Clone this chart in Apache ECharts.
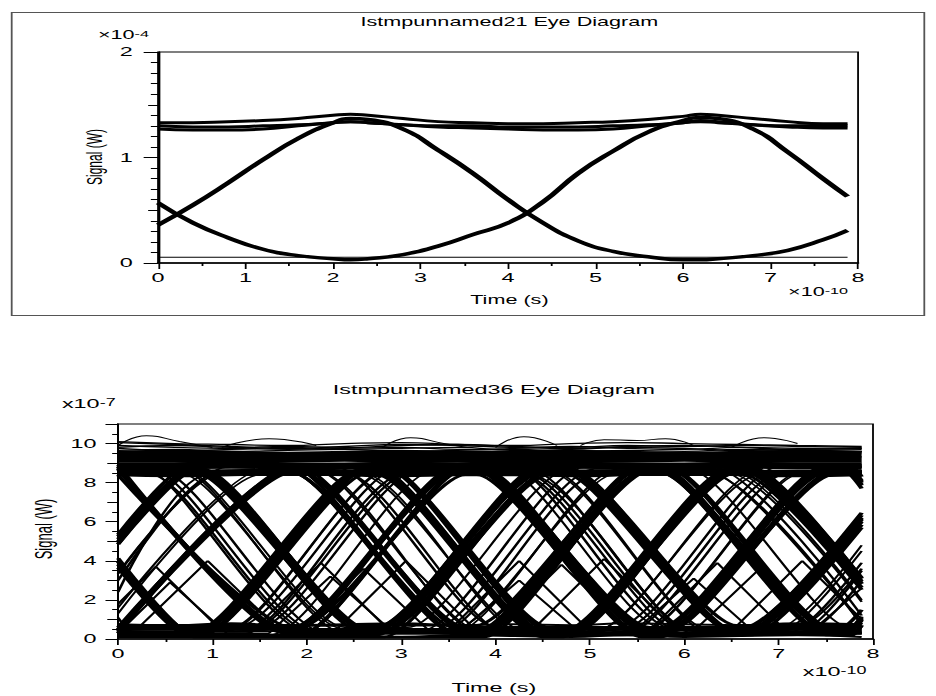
<!DOCTYPE html>
<html>
<head>
<meta charset="utf-8">
<title>Eye Diagrams</title>
<script src="https://cdn.jsdelivr.net/npm/echarts@6/dist/echarts.min.js"></script>
<style>
  html, body { margin: 0; padding: 0; background: #fff; }
  /* the original screenshot is stretched sideways, so the chart is drawn narrow and widened */
  #stage { position: absolute; left: 0; top: 0; width: 520px; height: 696px;
           transform-origin: 0 0; transform: scaleX(1.8); }
  #frame { position: absolute; left: 5.6px; top: 12px; width: 508.8px; height: 304px;
           box-sizing: border-box; border: 1px solid #555; }
  #chart { position: absolute; left: 0; top: 0; width: 520px; height: 696px; }
</style>
</head>
<body>
<div id="stage">
  <div id="frame"></div>
  <div id="chart"></div>
</div>
<script>
// ---- top eye diagram (x10^-10 s, x10^-4 W) ----
var topTimes = [0, 0.4, 0.8, 1.2, 1.6, 2.0, 2.2, 2.4, 2.8, 3.2, 3.6, 4.0, 4.4, 4.8, 5.2, 5.6, 6.0, 6.2, 6.4, 6.8, 7.2, 7.6, 7.88];
var topRise = [0.36, 0.55, 0.76, 0.98, 1.18, 1.33, 1.37, 1.36, 1.27, 1.07, 0.85, 0.6, 0.38, 0.21, 0.11, 0.06, 0.03, 0.03, 0.04, 0.07, 0.12, 0.22, 0.31];
var topFall = [0.57, 0.38, 0.24, 0.13, 0.07, 0.04, 0.03, 0.04, 0.08, 0.16, 0.27, 0.38, 0.58, 0.85, 1.06, 1.24, 1.35, 1.38, 1.37, 1.27, 1.05, 0.8, 0.63];
var topHighUpper = [1.33, 1.33, 1.34, 1.35, 1.37, 1.40, 1.41, 1.40, 1.37, 1.34, 1.33, 1.32, 1.32, 1.33, 1.34, 1.36, 1.39, 1.41, 1.40, 1.37, 1.34, 1.32, 1.32];
var topHighMid = [1.3, 1.29, 1.29, 1.3, 1.31, 1.33, 1.34, 1.33, 1.31, 1.3, 1.3, 1.29, 1.29, 1.29, 1.3, 1.31, 1.33, 1.34, 1.33, 1.31, 1.3, 1.3, 1.3];
var topHighLower = [1.27, 1.26, 1.26, 1.27, 1.3, 1.33, 1.34, 1.33, 1.31, 1.29, 1.28, 1.27, 1.26, 1.26, 1.27, 1.3, 1.33, 1.35, 1.34, 1.31, 1.29, 1.28, 1.28];
var topFloorTimes = [0, 7.88];
var topFloor = [0.055, 0.055];

// ---- bottom eye diagram (x10^-10 s, x10^-7 W) ----
// group A traces share these break times
var eyeTimesA = [0, 1.75, 1.85, 3.6, 3.8, 5.55, 5.75, 7.5, 7.7, 7.88];
var eyeTracesA = [
  [8.7, 0.5, 0.5, 8.7, 8.7, 0.5, 0.5, 8.7, 8.7, 7.86],
  [0.3, 8.5, 8.5, 0.3, 0.3, 8.5, 8.5, 0.3, 0.3, 1.15],
  [8.8, 8.8, 8.8, 0.2, 0.2, 0.2, 0.2, 8.8, 8.8, 8.8],
  [0.6, 0.6, 0.6, 8.6, 8.6, 8.6, 8.6, 0.6, 0.6, 0.6],
  [8.9, 0.4, 0.4, 0.4, 0.4, 8.9, 8.9, 8.9, 8.9, 8.0],
  [0.3, 8.4, 8.4, 8.4, 8.4, 0.3, 0.3, 0.3, 0.3, 1.1],
  [8.6, 8.6, 8.6, 8.6, 8.6, 0.1, 0.1, 8.6, 8.6, 7.7],
  [0.7, 0.7, 0.7, 0.7, 0.7, 8.7, 8.7, 0.7, 0.7, 1.5],
  [0.5, 8.5, 8.5, 0.5, 0.5, 0.5, 0.5, 8.5, 8.5, 8.5],
  [8.8, 0.3, 0.3, 8.8, 8.8, 8.8, 8.8, 0.3, 0.3, 0.3],
  [8.5, 8.5, 8.5, 0.2, 0.2, 8.5, 8.5, 0.2, 0.2, 1.05],
  [0.6, 0.6, 0.6, 8.9, 8.9, 0.6, 0.6, 8.9, 8.9, 8.05]
];
// the same group sampled a little later
var eyeTimesA2 = [0, 1.83, 1.93, 3.68, 3.88, 5.63, 5.83, 7.58, 7.78, 7.88];
var eyeTracesA2 = [
  [8.4, 0.6, 0.6, 8.4, 8.4, 0.6, 0.6, 8.4, 8.4, 7.9],
  [0.5, 8.8, 8.8, 0.5, 0.5, 8.8, 8.8, 0.5, 0.5, 1.0],
  [8.6, 8.6, 8.6, 0.4, 0.4, 8.6, 8.6, 8.6, 8.6, 8.6],
  [0.2, 0.2, 0.2, 8.7, 8.7, 0.2, 0.2, 0.2, 0.2, 0.7],
  [8.7, 0.3, 0.3, 0.3, 0.3, 8.7, 8.7, 0.3, 0.3, 0.3],
  [0.4, 8.5, 8.5, 8.5, 8.5, 0.4, 0.4, 8.5, 8.5, 8.5],
  [0.1, 0.1, 0.1, 0.1, 0.1, 8.8, 8.8, 8.8, 8.8, 8.3],
  [8.5, 8.5, 8.5, 8.5, 8.5, 0.5, 0.5, 0.5, 0.5, 0.96],
  [8.8, 0.2, 0.2, 8.8, 8.8, 8.8, 8.8, 0.2, 0.2, 0.7],
  [0.6, 8.6, 8.6, 0.6, 0.6, 0.6, 0.6, 8.6, 8.6, 8.1]
];
// group B traces, half a bit later
var eyeTimesB = [0, 0.8, 0.9, 2.65, 2.82, 4.57, 4.8, 6.55, 6.72, 7.88];
var eyeTracesB = [
  [4.85, 8.6, 8.6, 0.4, 0.4, 8.6, 8.6, 0.4, 0.4, 5.84],
  [4.13, 0.2, 0.2, 8.8, 8.8, 0.2, 0.2, 8.8, 8.8, 3.1],
  [8.5, 8.5, 8.5, 0.5, 0.5, 0.5, 0.5, 8.5, 8.5, 8.5],
  [0.3, 0.3, 0.3, 8.7, 8.7, 8.7, 8.7, 0.3, 0.3, 0.3],
  [3.98, 0.1, 0.1, 0.1, 0.1, 8.6, 8.6, 8.6, 8.6, 2.96],
  [5.11, 8.9, 8.9, 8.9, 8.9, 0.6, 0.6, 0.6, 0.6, 6.1],
  [8.4, 8.4, 8.4, 0.4, 0.4, 8.4, 8.4, 8.4, 8.4, 3.1],
  [0.5, 0.5, 0.5, 8.8, 8.8, 0.5, 0.5, 0.5, 0.5, 6.0],
  [4.86, 8.7, 8.7, 0.3, 0.3, 0.3, 0.3, 8.7, 8.7, 3.13],
  [4.0, 0.2, 0.2, 8.5, 8.5, 8.5, 8.5, 0.2, 0.2, 5.7],
  [8.9, 8.9, 8.9, 8.9, 8.9, 0.4, 0.4, 8.9, 8.9, 8.9],
  [0.7, 0.7, 0.7, 0.7, 0.7, 8.6, 8.6, 0.7, 0.7, 0.7]
];
var eyeTimesB2 = [0, 0.72, 0.82, 2.57, 2.74, 4.49, 4.72, 6.47, 6.64, 7.88];
var eyeTracesB2 = [
  [3.81, 0.4, 0.4, 8.7, 8.7, 0.4, 0.4, 8.7, 8.7, 2.82],
  [5.25, 8.5, 8.5, 0.6, 0.6, 8.5, 8.5, 0.6, 0.6, 6.2],
  [8.8, 8.8, 8.8, 8.8, 8.8, 0.3, 0.3, 0.3, 0.3, 6.33],
  [0.2, 0.2, 0.2, 0.2, 0.2, 8.6, 8.6, 8.6, 8.6, 2.64],
  [3.95, 0.5, 0.5, 0.5, 0.5, 8.9, 8.9, 0.5, 0.5, 6.46],
  [4.99, 8.4, 8.4, 8.4, 8.4, 0.1, 0.1, 8.4, 8.4, 2.52],
  [8.7, 8.7, 8.7, 0.6, 0.6, 8.7, 8.7, 0.6, 0.6, 0.6],
  [0.3, 0.3, 0.3, 8.5, 8.5, 0.3, 0.3, 8.5, 8.5, 8.5],
  [5.35, 8.8, 8.8, 0.4, 0.4, 8.8, 8.8, 8.8, 8.8, 2.84],
  [3.65, 0.2, 0.2, 8.6, 8.6, 0.2, 0.2, 0.2, 0.2, 6.16]
];
// jittered traces that fill the in-between eyes
var eyeTracesC = [
  [[0, 8.7], [0.35, 8.7], [2.1, 0.4], [3.3, 0.4], [5.05, 8.7], [6.2, 8.7], [7.88, 0.75]],
  [[0, 0.3], [1.35, 0.3], [3.1, 8.5], [4.25, 8.5], [6.0, 0.3], [7.2, 0.3], [7.88, 3.5]],
  [[0, 3.35], [1.15, 8.8], [2.3, 8.8], [4.05, 0.5], [5.25, 0.5], [7.0, 8.8], [7.88, 8.8]],
  [[0, 1.1], [0.15, 0.4], [1.35, 0.4], [3.1, 8.6], [6.2, 8.6], [7.88, 0.75]],
  [[0, 8.4], [0.35, 8.4], [2.1, 0.3], [5.25, 0.3], [7.0, 8.4], [7.88, 8.4]],
  [[0, 3.35], [1.15, 8.6], [4.25, 8.6], [6.0, 0.6], [7.2, 0.6], [7.88, 3.6]],
  [[0, 8.6], [0.45, 8.6], [2.2, 0.3], [3.4, 0.3], [5.15, 8.6], [7.88, 8.6]],
  [[0, 0.5], [1.45, 0.5], [3.2, 8.7], [4.35, 8.7], [6.1, 0.4], [7.3, 0.4], [7.88, 3.0]],
  [[0, 3.0], [1.05, 8.5], [2.4, 8.5], [4.15, 0.2], [5.35, 0.2], [7.1, 8.5], [7.88, 8.5]],
  [[0, 0.6], [1.25, 0.6], [3.0, 8.8], [4.15, 8.8], [5.9, 0.5], [7.88, 0.5]],
  [[0, 8.8], [0.25, 8.8], [2.0, 0.4], [3.2, 0.4], [4.95, 8.8], [6.3, 8.8], [7.88, 1.2]],
  [[0, 2.4], [0.95, 8.4], [4.35, 8.4], [6.1, 0.3], [7.1, 0.3], [7.88, 3.9]]
];
// thin traces just outside the main bundles (hatching)
var eyeTracesD = [
  [[0, 1.6], [1.5, 8.6], [2.1, 8.6], [3.85, 0.4], [5.05, 0.4], [6.8, 8.6], [7.88, 8.6]],
  [[0, 8.7], [0.65, 8.7], [2.4, 0.3], [3.55, 0.3], [5.3, 8.7], [6.47, 8.7], [7.88, 2.0]],
  [[0, 0.5], [1.15, 0.5], [2.9, 8.8], [4.05, 8.8], [5.8, 0.5], [6.97, 0.5], [7.88, 4.8]],
  [[0, 8.5], [2.57, 8.5], [4.32, 0.2], [5.5, 0.2], [7.25, 8.5], [7.88, 8.5]],
  [[0, 0.2], [1.6, 0.2], [3.35, 8.6], [4.55, 8.6], [6.3, 0.2], [6.97, 0.2], [7.88, 4.5]],
  [[0, 8.8], [0.65, 8.8], [2.4, 0.6], [3.07, 0.6], [4.82, 8.8], [6.0, 8.8], [7.75, 0.6], [7.88, 0.6]],
  [[0, 1.3], [1.5, 8.4], [2.57, 8.4], [4.32, 0.4], [5.05, 0.4], [6.8, 8.4], [7.88, 8.4]],
  [[0, 8.6], [2.1, 8.6], [3.85, 0.3], [5.5, 0.3], [7.25, 8.6], [7.88, 8.6]],
  [[0, 0.4], [1.15, 0.4], [2.9, 8.7], [4.55, 8.7], [6.3, 0.4], [7.88, 0.4]],
  [[0, 8.5], [0.65, 8.5], [2.4, 0.5], [3.55, 0.5], [5.3, 8.5], [6.47, 8.5], [7.88, 1.9]]
];
// small pulses that never leave the lower half
var eyeTracesE = [
  [[0, 0.5], [0.2, 0.5], [0.95, 4.0], [1.7, 0.5], [2.3, 0.4], [3.05, 4.0], [3.8, 0.4], [4.4, 0.5], [5.15, 4.1], [5.9, 0.5], [6.5, 0.4], [7.25, 4.0], [7.88, 1.0]],
  [[0, 3.6], [0.7, 0.3], [1.4, 0.3], [2.15, 3.9], [2.9, 0.3], [3.5, 0.4], [4.25, 4.0], [5.0, 0.4], [5.6, 0.3], [6.35, 3.9], [7.1, 0.3], [7.88, 0.3]],
  [[0, 1.8], [0.4, 3.7], [1.1, 0.4], [1.9, 0.4], [2.6, 3.6], [3.3, 0.4], [4.0, 0.5], [4.7, 3.8], [5.4, 0.5], [6.1, 0.4], [6.8, 3.6], [7.5, 0.4], [7.88, 0.4]],
  [[0, 0.3], [0.55, 2.9], [1.15, 0.3], [1.6, 0.3], [2.25, 3.2], [2.9, 0.4], [3.6, 0.3], [4.25, 3.0], [4.9, 0.3], [5.45, 0.3], [6.1, 3.1], [6.75, 0.3], [7.35, 0.4], [7.88, 2.6]]
];
// the dense "one" band, its fuzzy top, and the "zero" floor
var bandTimes = [0, 0.6, 1.2, 1.8, 2.4, 3.0, 3.6, 4.2, 4.8, 5.4, 6.0, 6.6, 7.2, 7.88];
var bandTraces = [
  [8.5, 8.45, 8.5, 8.55, 8.5, 8.45, 8.5, 8.5, 8.45, 8.5, 8.55, 8.5, 8.45, 8.5],
  [8.85, 8.85, 8.9, 8.85, 8.85, 8.9, 8.85, 8.85, 8.9, 8.85, 8.85, 8.9, 8.85, 8.85],
  [9.2, 9.2, 9.15, 9.2, 9.25, 9.2, 9.2, 9.15, 9.2, 9.2, 9.25, 9.2, 9.2, 9.2],
  [9.45, 9.5, 9.45, 9.4, 9.45, 9.5, 9.45, 9.45, 9.5, 9.45, 9.4, 9.45, 9.5, 9.45]
];
var fuzzTraces = [
  [9.9, 9.8, 9.75, 9.7, 9.75, 9.8, 9.7, 9.75, 9.85, 9.75, 9.7, 9.8, 9.75, 9.7],
  [10.05, 9.95, 9.85, 9.75, 9.85, 9.95, 9.9, 9.8, 9.75, 9.85, 9.9, 9.8, 9.7, 9.75],
  [9.65, 9.7, 9.6, 9.65, 9.7, 9.6, 9.65, 9.7, 9.6, 9.65, 9.6, 9.7, 9.65, 9.6],
  [9.8, 9.9, 9.8, 9.85, 9.8, 9.9, 9.95, 9.85, 9.8, 9.9, 9.85, 9.9, 9.85, 9.8],
  [10.1, 10.0, 9.95, 9.9, 10.0, 10.05, 9.95, 9.9, 10.0, 10.05, 10.0, 9.95, 9.9, 9.85],
  [9.75, 9.65, 9.7, 9.8, 9.7, 9.75, 9.8, 9.65, 9.7, 9.8, 9.75, 9.65, 9.7, 9.75]
];
var lowTraces = [
  [0.15, 0.1, 0.2, 0.1, 0.15, 0.1, 0.2, 0.15, 0.1, 0.2, 0.1, 0.15, 0.2, 0.1],
  [0.45, 0.5, 0.4, 0.5, 0.45, 0.4, 0.5, 0.45, 0.5, 0.4, 0.45, 0.5, 0.4, 0.45],
  [0.75, 0.7, 0.8, 0.7, 0.75, 0.8, 0.7, 0.75, 0.7, 0.8, 0.75, 0.7, 0.8, 0.75]
];
var overshootArcs = [
  [[0, 9.9], [0.3, 10.4], [0.65, 10.1], [1.0, 9.8]],
  [[1.1, 9.8], [1.6, 10.25], [2.1, 9.9]],
  [[2.8, 9.8], [3.1, 10.3], [3.45, 10.0], [3.7, 9.8]],
  [[4.0, 9.8], [4.3, 10.35], [4.65, 9.9]],
  [[4.9, 9.9], [5.15, 10.2], [5.5, 10.15], [5.8, 10.25], [6.1, 9.9]],
  [[6.5, 9.8], [6.85, 10.3], [7.2, 10.0]]
];

var font = 'Liberation Sans, Arial, sans-serif';

function pairs(times, values) {
  return times.map(function (t, i) { return [t, values[i]]; });
}

function trace(data, grid, width, smooth) {
  return {
    type: 'line', xAxisIndex: grid, yAxisIndex: grid * 2, data: data,
    symbol: 'none', smooth: smooth, silent: true,
    lineStyle: { color: '#000', width: width }
  };
}

function timeAxis(grid) {
  return {
    type: 'value', gridIndex: grid, min: 0, max: 8, interval: 1,
    axisLine: { lineStyle: { color: '#000', width: 1.5 } },
    axisTick: { length: 6, lineStyle: { color: '#000' } },
    minorTick: { show: true, splitNumber: 2, length: 3, lineStyle: { color: '#000' } },
    axisLabel: { color: '#000', fontSize: 13, fontFamily: font, margin: 8 },
    splitLine: { show: false }, minorSplitLine: { show: false }
  };
}

function signalAxis(grid, max, step, tickLen, labels, minorSplit, minorLen, margin) {
  return {
    type: 'value', gridIndex: grid, position: 'left', min: 0, max: max, interval: step,
    axisLine: { lineStyle: { color: '#000', width: 1 } },
    axisTick: { length: tickLen, lineStyle: { color: '#000' } },
    minorTick: { show: minorSplit > 0, splitNumber: minorSplit || 5, length: minorLen, lineStyle: { color: '#000' } },
    axisLabel: {
      show: labels, color: '#000', fontSize: 13, fontFamily: font, margin: margin,
      formatter: function (v) { return v % 2 === 0 || max < 5 ? String(v) : ''; }
    },
    splitLine: { show: false }, minorSplitLine: { show: false }
  };
}

function label(x, y, text, size, rotate) {
  return {
    type: 'text', x: x, y: y, rotation: rotate ? Math.PI / 2 : 0,
    style: {
      text: text, font: size + 'px ' + font, fill: '#000',
      align: 'center', verticalAlign: 'middle', textAlign: 'center', textVerticalAlign: 'middle'
    }
  };
}

function sci(x, y, base, exp, size) {
  return {
    type: 'text', x: x, y: y,
    style: {
      text: '{b|' + base + '}{e|' + exp + '}', fill: '#000',
      verticalAlign: 'middle', textVerticalAlign: 'middle',
      rich: {
        b: { fontSize: size, fontFamily: font, fill: '#000', color: '#000' },
        e: { fontSize: size - 3, fontFamily: font, fill: '#000', color: '#000', verticalAlign: 'top' }
      }
    }
  };
}

var series = [];
// top panel
[topHighUpper, topHighMid, topHighLower].forEach(function (v) {
  series.push(trace(pairs(topTimes, v), 0, 3, true));
});
series.push(trace(pairs(topTimes, topRise), 0, 3.5, true));
series.push(trace(pairs(topTimes, topFall), 0, 3.5, true));
series.push(trace(pairs(topFloorTimes, topFloor), 0, 1, false));
// bottom panel
bandTraces.forEach(function (v) { series.push(trace(pairs(bandTimes, v), 1, 7, true)); });
fuzzTraces.forEach(function (v) { series.push(trace(pairs(bandTimes, v), 1, 1.3, true)); });
lowTraces.forEach(function (v) { series.push(trace(pairs(bandTimes, v), 1, 2, true)); });
overshootArcs.forEach(function (d) { series.push(trace(d, 1, 1, true)); });
eyeTracesA.forEach(function (v) { series.push(trace(pairs(eyeTimesA, v), 1, 2.5, 0.2)); });
eyeTracesA2.forEach(function (v) { series.push(trace(pairs(eyeTimesA2, v), 1, 2.5, 0.2)); });
eyeTracesB.forEach(function (v) { series.push(trace(pairs(eyeTimesB, v), 1, 2.5, 0.2)); });
eyeTracesB2.forEach(function (v) { series.push(trace(pairs(eyeTimesB2, v), 1, 2.5, 0.2)); });
eyeTracesC.forEach(function (d) { series.push(trace(d, 1, 1.6, 0.2)); });
eyeTracesD.forEach(function (d) { series.push(trace(d, 1, 1.4, 0.2)); });
eyeTracesE.forEach(function (d) { series.push(trace(d, 1, 1.5, false)); });

var chart = echarts.init(document.getElementById('chart'), null, { renderer: 'svg' });
chart.setOption({
  animation: false,
  backgroundColor: 'transparent',
  grid: [
    { left: 87.8, right: 43.3, top: 52, bottom: 433, show: true, borderColor: '#000', borderWidth: 1 },
    { left: 65.6, right: 35, top: 424, bottom: 57, show: true, borderColor: '#000', borderWidth: 1 }
  ],
  xAxis: [timeAxis(0), timeAxis(1)],
  yAxis: [
    signalAxis(0, 2, 1, 8, true, 0, 0, 14),
    signalAxis(0, 2, 0.5, 5.5, false, 5, 4, 0),
    signalAxis(1, 11, 2, 7, true, 0, 0, 12),
    signalAxis(1, 11, 1, 6, false, 2, 3.3, 0)
  ],
  graphic: [
    label(283, 22, 'Istmpunnamed21 Eye Diagram', 12),
    sci(54.4, 35, '×10', '-4', 12),
    label(52.8, 157, 'Signal (W)', 12, true),
    label(283, 300, 'Time (s)', 12),
    sci(437.8, 292, '×10', '-10', 12),
    label(274.4, 390, 'Istmpunnamed36 Eye Diagram', 13),
    sci(34.4, 404, 'x10', '-7', 13),
    label(24.7, 529, 'Signal (W)', 13, true),
    sci(446, 672, 'x10', '-10', 13),
    label(274.4, 688, 'Time (s)', 13)
  ],
  series: series
});
</script>
</body>
</html>
